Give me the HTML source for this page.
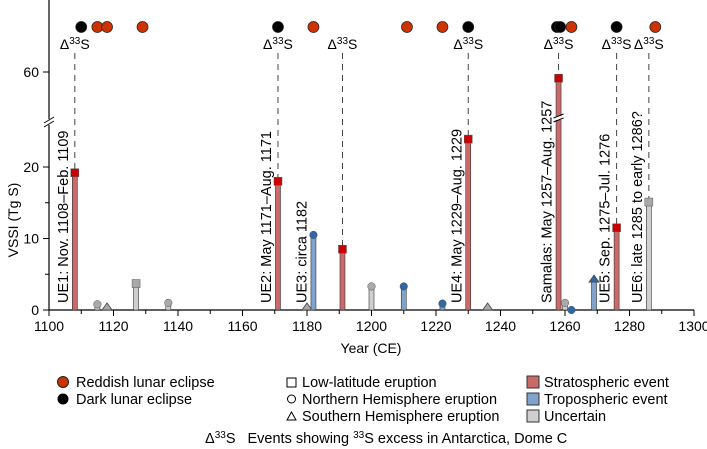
<!DOCTYPE html>
<html><head><meta charset="utf-8"><style>
body{margin:0;background:#fff;}
svg{display:block;font-family:"Liberation Sans",Arial,sans-serif;}
</style></head><body>
<svg id="c" width="707" height="449" viewBox="0 0 707 449"></svg>
<script>
const years=[1108,1115,1118,1127,1137,1171,1180,1182,1191,1200,1210,1222,1230,1236,1258,1260,1262,1269,1276,1286];
const vssi=[19.2,0.8,0,3.7,1.0,18.0,0,10.5,8.5,3.3,3.3,0.9,23.9,0,57.5,1.0,0,3.9,11.5,15.1];
const shapes=['s','c','t','s','c','s','t','c','s','c','c','c','s','t','s','c','c','t','s','s'];
const types=['S','U','U','U','U','S','U','T','S','U','T','T','S','U','S','U','T','T','S','U'];
const labels=['UE1: Nov. 1108–Feb. 1109','','','','','UE2: May 1171–Aug. 1171','','UE3: circa 1182','','','','','UE4: May 1229–Aug. 1229','','Samalas: May 1257–Aug. 1257','','','','UE5: Sep. 1275–Jul. 1276','UE6: late 1285 to early 1286?'];
const d33=[1108,1171,1191,1230,1258,1276,1286];
const eclYears=[1110,1115,1118,1129,1171,1182,1211,1222,1230,1257.5,1258.5,1262,1276,1288];
const eclKind=['d','r','r','r','d','r','r','r','d','d','d','r','d','r'];
const xTicks=[1100,1120,1140,1160,1180,1200,1220,1240,1260,1280,1300];
const yTicks=[0,10,20];

const NS='http://www.w3.org/2000/svg';
const svg=document.getElementById('c');
function X(v){return 49+(v-1100)*3.225;}
function Y(v){return v<=30?310-v*7.15:72+(60-v)*2.5;}
function mk(t,a,p){const e=document.createElementNS(NS,t);for(const k in a)e.setAttribute(k,a[k]);(p||svg).appendChild(e);return e;}
const barFill={S:'#c86a6a',T:'#7fa3cc',U:'#cfcfcf'};
const mkFill={S:'#cc0000',T:'#2f68a5',U:'#a9a9a9'};

let ax=mk('line',{x1:49,y1:310,x2:49,y2:125,stroke:'#000','stroke-width':1.2});

ax=mk('line',{x1:49,y1:119,x2:49,y2:0,stroke:'#000','stroke-width':1.2});

let br=mk('path',{d:'M44,127 L54,121 M44,123 L54,117',stroke:'#000',fill:'none','stroke-width':1});

ax=mk('line',{x1:49,y1:310,x2:694,y2:310,stroke:'#000','stroke-width':1.2});

for(let v=1100;v<=1300;v+=10){const big=v%20===0;mk('line',{x1:X(v),y1:310,x2:X(v),y2:big?316:314,stroke:'#000'});}
xTicks.forEach(v=>{const t=mk('text',{x:X(v),y:331,'text-anchor':'middle','font-size':14});t.textContent=v;
});
for(let v=0;v<=20;v+=5){mk('line',{x1:49,y1:Y(v),x2:v%10===0?43:45,y2:Y(v),stroke:'#000'});}
yTicks.forEach(v=>{const t=mk('text',{x:39,y:Y(v)+5,'text-anchor':'end','font-size':14});t.textContent=v;
});
mk('line',{x1:49,y1:Y(60),x2:43,y2:Y(60),stroke:'#000'});
let t60=mk('text',{x:39,y:Y(60)+5,'text-anchor':'end','font-size':14});t60.textContent='60';

let yt=mk('text',{transform:'translate(18,220) rotate(-90)','text-anchor':'middle','font-size':14});yt.textContent='VSSI (Tg S)';

let xt=mk('text',{x:371,y:353,'text-anchor':'middle','font-size':14});xt.textContent='Year (CE)';


d33.forEach(y=>{const i=years.indexOf(y);const x=X(y);
 const l=mk('line',{x1:x,y1:53,x2:x,y2:Y(vssi[i]),stroke:'#444','stroke-dasharray':'6,5','stroke-width':1});
 
 const t=mk('text',{x:x,y:49,'text-anchor':'middle','font-size':14});
 t.innerHTML='Δ<tspan dy="-5" font-size="10">33</tspan><tspan dy="5">S</tspan>';
 });

years.forEach((y,i)=>{const x=X(y),top=Y(vssi[i]);
 if(vssi[i]>0.3){const b=mk('rect',{x:x-2.5,y:top,width:5,height:310-top,fill:barFill[types[i]],stroke:'#333','stroke-width':0.6});
  }
 let m;
 if(shapes[i]==='s')m=mk('rect',{x:x-4,y:top-4,width:8,height:8,fill:mkFill[types[i]],stroke:'#555','stroke-width':0.5});
 else if(shapes[i]==='c')m=mk('circle',{cx:x,cy:top,r:3.8,fill:mkFill[types[i]],stroke:'#555','stroke-width':0.5});
 else m=mk('path',{d:`M${x-5},${top} L${x+5},${top} L${x},${top-7} Z`,fill:mkFill[types[i]],stroke:'#444','stroke-width':0.8});
 
 if(labels[i]){const t=mk('text',{transform:`translate(${x-7},303) rotate(-90)`,'font-size':14.5});t.textContent=labels[i];
  }
});
mk('rect',{x:X(1258)-4,y:116,width:8,height:4,fill:'#fff'});
let sb=mk('path',{d:`M${X(1258)-5},118 L${X(1258)+5},114 M${X(1258)-5},122 L${X(1258)+5},118`,stroke:'#000',fill:'none'});


eclYears.forEach((y,i)=>{const c=mk('circle',{cx:X(y),cy:27,r:5.5,fill:eclKind[i]==='r'?'#cc3300':'#000',stroke:'#222','stroke-width':0.7});
 });

const lg=mk('g',{'font-size':14.5});
function lt(x,y,s,name){const t=mk('text',{x:x,y:y},lg);t.textContent=s;}
mk('circle',{cx:63,cy:382,r:5.5,fill:'#cc3300',stroke:'#222'},lg);lt(76,387,'Reddish lunar eclipse','legend-reddish');
mk('circle',{cx:63,cy:399,r:5.5,fill:'#000'},lg);lt(76,404,'Dark lunar eclipse','legend-dark');
mk('rect',{x:287,y:378,width:9,height:9,fill:'none',stroke:'#000'},lg);lt(302,387,'Low-latitude eruption','legend-low-lat');
mk('circle',{cx:291.5,cy:399,r:4,fill:'none',stroke:'#000'},lg);lt(302,404,'Northern Hemisphere eruption','legend-nh');
mk('path',{d:'M287,420 L296,420 L291.5,412 Z',fill:'none',stroke:'#000'},lg);lt(302,421,'Southern Hemisphere eruption','legend-sh');
[['#c86a6a','Stratospheric event'],['#7fa3cc','Tropospheric event'],['#cfcfcf','Uncertain']].forEach((a,i)=>{
 mk('rect',{x:527,y:376+i*17,width:12,height:12,fill:a[0],stroke:'#333'},lg);lt(544,387+i*17,a[1],'legend-'+a[1].split(' ')[0].toLowerCase());});
const bt=mk('text',{x:205,y:443,'font-size':14.5},lg);
bt.innerHTML='Δ<tspan dy="-5" font-size="10">33</tspan><tspan dy="5">S</tspan><tspan dx="12">Events showing </tspan><tspan dy="-5" font-size="10">33</tspan><tspan dy="5">S excess in Antarctica, Dome C</tspan>';

</script>
</body></html>
